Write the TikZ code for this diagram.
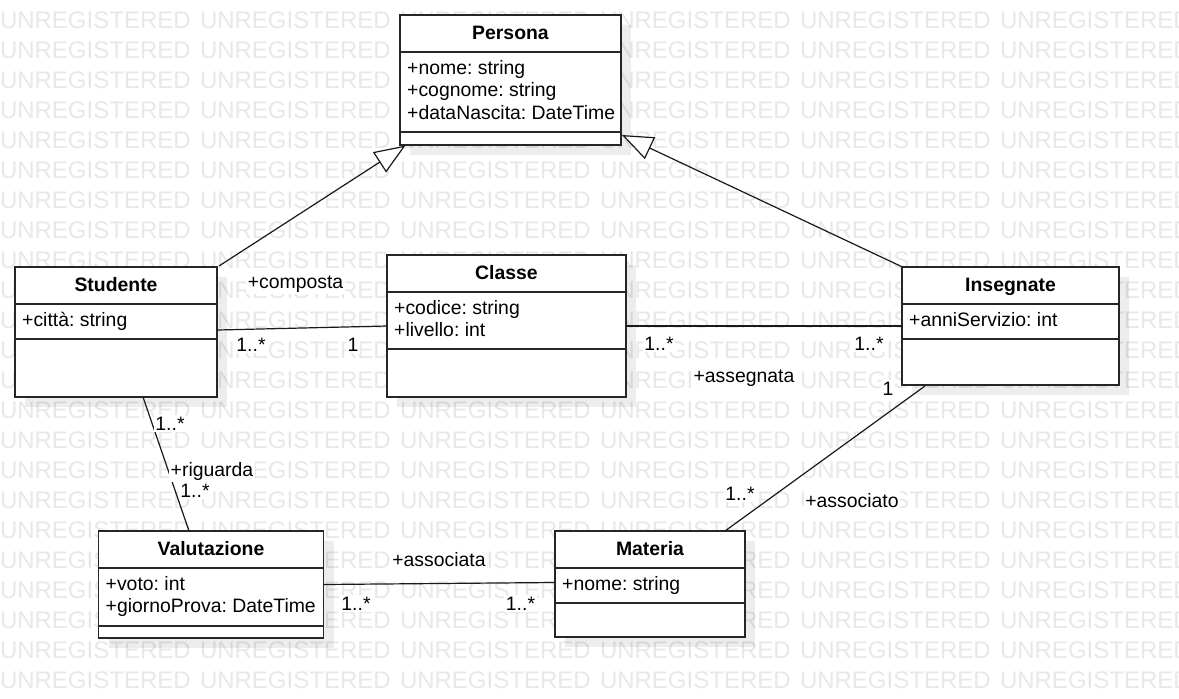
\documentclass[tikz,border=0pt]{standalone}
\usepackage{fontspec}
\setmainfont{Liberation Sans}
\usetikzlibrary{arrows.meta,calc,shadows}
\frenchspacing
\tikzset{
  wm/.style={text=black!9, font=\fontsize{24}{24}\selectfont, anchor=base west, inner sep=0pt, outer sep=0pt},
  classbox/.style={draw=black!85, line width=1.4pt, fill=white, inner sep=0pt, outer sep=0pt, anchor=north west,
    drop shadow={shadow xshift=10pt, shadow yshift=-10pt, fill=black, opacity=0.07}},
  compline/.style={draw=black!85, line width=1.4pt},
  classtitle/.style={font=\fontsize{19.4}{23}\selectfont\bfseries, anchor=base, inner sep=0pt},
  attr/.style={font=\fontsize{19.4}{23}\selectfont, anchor=base west, inner sep=0pt},
  lab/.style={font=\fontsize{19.4}{23}\selectfont, anchor=base, fill=white, inner sep=1.5pt},
  conn/.style={line width=1.2pt, draw=black!90},
  gen/.style={conn, -{Triangle[fill=white, length=31pt, width=24pt]}}
}
\newcommand\umlclass[7]{%
  \node[classbox, minimum width=#4pt, minimum height=#5pt] (#1) at (#2,#3) {};
  \draw[compline] ($(#1.north west)+(0,37)$) -- ($(#1.north east)+(0,37)$);
  \draw[compline] ($(#1.north west)+(0,#6)$) -- ($(#1.north east)+(0,#6)$);
  \node[classtitle] (#1-title) at ($(#1.north)+(0,24.5)$) {#7};
}
\begin{document}
\begin{tikzpicture}[x=1pt,y=-1pt]
\useasboundingbox (0,0) rectangle (1179,699);
\fill[white] (0,0) rectangle (1179,699);
% watermark
\foreach \r in {0,...,22}{
  \foreach \c in {0,...,5}{
    \node[wm] (wm-\r-\c) at (\c*200, 28.6+\r*30) {UNREGISTERED};
  }
}
% classes
\umlclass{persona}{400}{15}{221}{130}{117}{Persona}
\node[attr] (persona-a1) at ($(persona.north west)+(7,59)$) {+nome: string};
\node[attr] (persona-a2) at ($(persona.north west)+(7,81.5)$) {+cognome: string};
\node[attr] (persona-a3) at ($(persona.north west)+(7,104)$) {+dataNascita: DateTime};

\umlclass{studente}{15}{267}{202}{130}{72}{Studente}
\node[attr] (studente-a1) at ($(studente.north west)+(7,59)$) {+città: string};

\umlclass{classe}{387}{255}{239}{142}{94}{Classe}
\node[attr] (classe-a1) at ($(classe.north west)+(7,59)$) {+codice: string};
\node[attr] (classe-a2) at ($(classe.north west)+(7,81.5)$) {+livello: int};

\umlclass{insegnate}{902}{267}{217}{118}{72}{Insegnate}
\node[attr] (insegnate-a1) at ($(insegnate.north west)+(7,59)$) {+anniServizio: int};

\umlclass{valutazione}{98.5}{531}{225}{107}{95}{Valutazione}
\node[attr] (valutazione-a1) at ($(valutazione.north west)+(7,59)$) {+voto: int};
\node[attr] (valutazione-a2) at ($(valutazione.north west)+(7,81.5)$) {+giornoProva: DateTime};

\umlclass{materia}{555}{531}{190}{106}{72}{Materia}
\node[attr] (materia-a1) at ($(materia.north west)+(7,59)$) {+nome: string};

% generalizations
\draw[gen] ($(studente.north east)+(2,-1)$) -- ($(persona.south west)+(5.5,0.5)$);
\draw[gen] ($(insegnate.north west)+(0.5,0)$) -- ($(persona.south east)+(1,-10)$);

% associations
\draw[conn] ($(studente.east)+(1,-2)$) -- (classe.west);
\draw[conn] (classe.east) -- (insegnate.west);
\draw[conn] ($(studente.south)+(27,0)$) -- ($(valutazione.north)+(-22,0)$);
\draw[conn] (valutazione.east) -- ($(materia.west)+(0,-1.5)$);
\draw[conn] ($(insegnate.south)+(-85.5,1)$) -- ($(materia.north)+(75,0)$);

% labels
\node[lab] (l-composta) at (295.5,288) {+composta};
\node[lab] (l-sc1) at (251,351.5) {1..*};
\node[lab] (l-sc2) at (353,351) {1};
\node[lab] (l-ci1) at (659,350) {1..*};
\node[lab] (l-ci2) at (869,350) {1..*};
\node[lab] (l-assegnata) at (744,382) {+assegnata};
\node[lab] (l-im1) at (888,395) {1};
\node[lab] (l-sv1) at (170,430) {1..*};
\node[lab] (l-riguarda) at (212,476) {+riguarda};
\node[lab] (l-sv2) at (195,497) {1..*};
\node[lab] (l-associata) at (439,566) {+associata};
\node[lab] (l-vm1) at (356,610) {1..*};
\node[lab] (l-vm2) at (520.5,610) {1..*};
\node[lab] (l-im2) at (740,500) {1..*};
\node[lab] (l-associato) at (852,507) {+associato};
\end{tikzpicture}
\end{document}
